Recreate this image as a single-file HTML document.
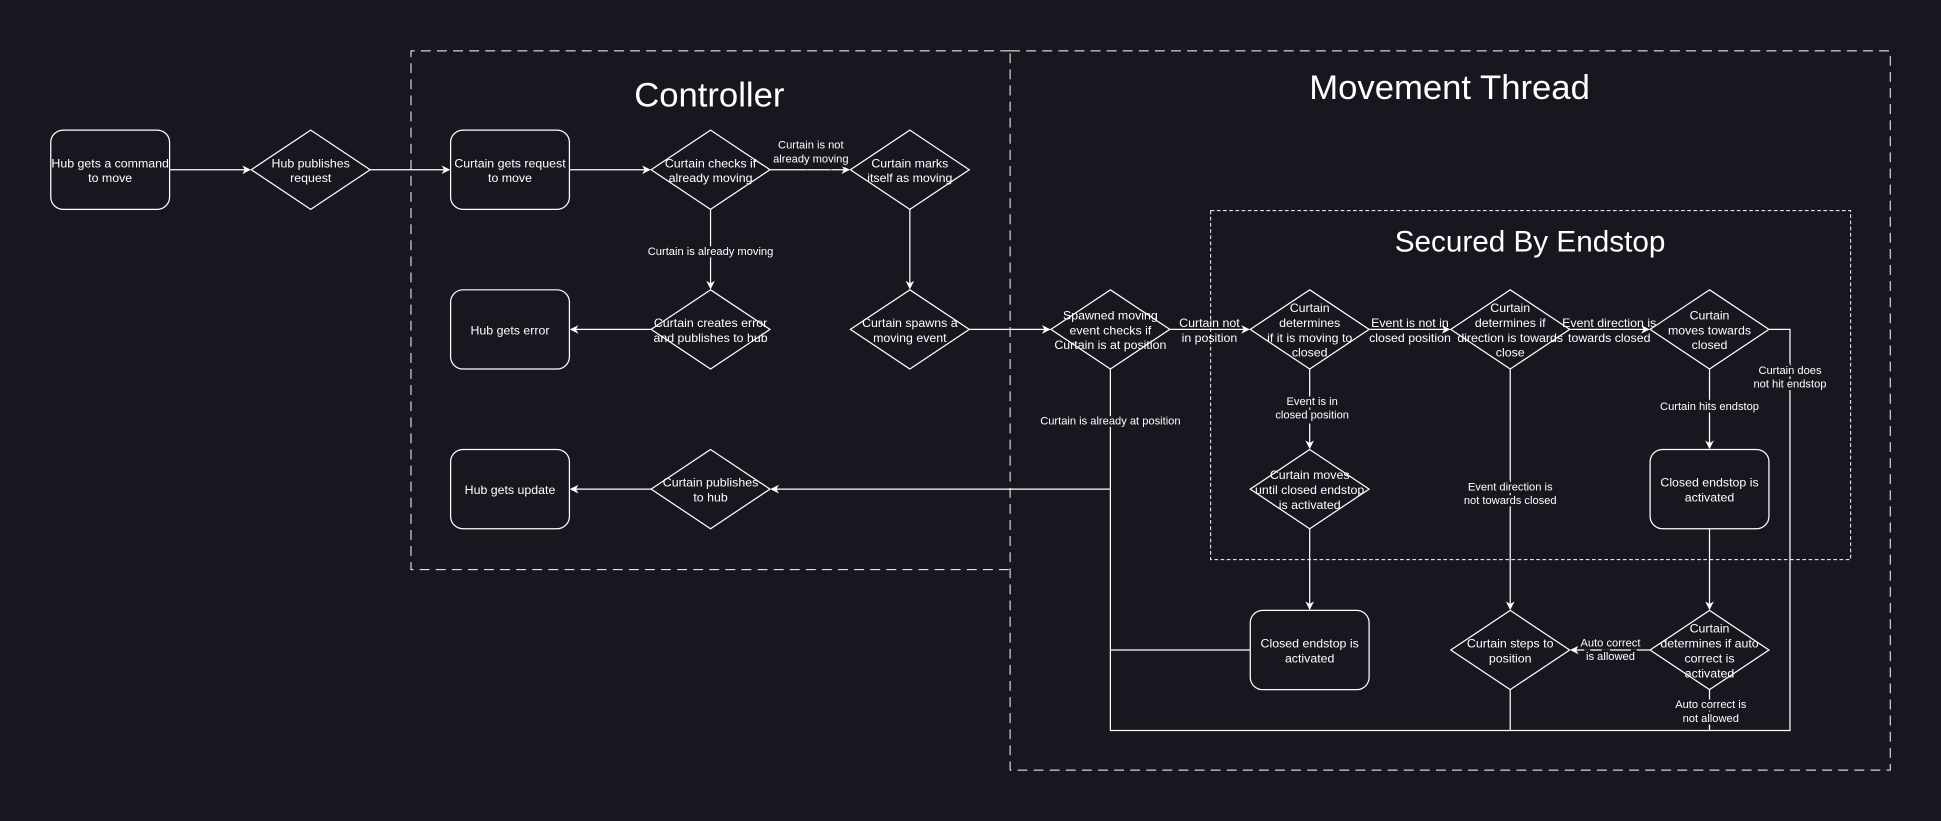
<!DOCTYPE html>
<html><head><meta charset="utf-8"><style>
html,body{margin:0;padding:0;background:#18161f;}
svg{display:block;}
text{font-family:"Liberation Sans",sans-serif;fill:#fff;}
</style></head><body>
<svg width="1941" height="821" viewBox="0 0 1568 663" xmlns="http://www.w3.org/2000/svg">
<defs>
<marker id="a" viewBox="0 0 10 10" refX="9" refY="5" markerWidth="7" markerHeight="7" orient="auto" markerUnits="userSpaceOnUse">
<path d="M0,0 L10,5 L0,10 L3,5 Z" fill="#fff"/></marker>
</defs>
<rect width="1568" height="663" fill="#18161f"/>
<g fill="none" stroke="#fff" stroke-width="0.8">
<path d="M816 41H332V460H816" stroke-dasharray="8,5"/>
<rect x="816" y="41" width="711" height="581" stroke-dasharray="8,5"/>
<rect x="978" y="170" width="517" height="282" stroke-dasharray="3,2"/>
</g>
<text x="573" y="86" font-size="28" text-anchor="middle">Controller</text>
<text x="1171" y="80" font-size="28" text-anchor="middle">Movement Thread</text>
<text x="1236" y="203" font-size="24" text-anchor="middle">Secured By Endstop</text>

<g fill="none" stroke="#fff" stroke-width="1">
<path d="M137 137H202" marker-end="url(#a)"/>
<path d="M299 137H363" marker-end="url(#a)"/>
<path d="M460 137H525" marker-end="url(#a)"/>
<path d="M622 137H686" marker-end="url(#a)"/>
<path d="M574 169V233" marker-end="url(#a)"/>
<path d="M526 266H461" marker-end="url(#a)"/>
<path d="M735 169V233" marker-end="url(#a)"/>
<path d="M783 266H848" marker-end="url(#a)"/>
<path d="M945 266H1009" marker-end="url(#a)"/>
<path d="M1106 266H1171" marker-end="url(#a)"/>
<path d="M1268 266H1332" marker-end="url(#a)"/>
<path d="M1058 298V362" marker-end="url(#a)"/>
<path d="M1058 427V492" marker-end="url(#a)"/>
<path d="M1220 298V492" marker-end="url(#a)"/>
<path d="M1381 298V362" marker-end="url(#a)"/>
<path d="M1381 427V492" marker-end="url(#a)"/>
<path d="M1333 525H1269" marker-end="url(#a)"/>
<path d="M897 298V590H1446V266H1429"/>
<path d="M897 395H623" marker-end="url(#a)"/>
<path d="M526 395H461" marker-end="url(#a)"/>
<path d="M1010 525H897"/>
<path d="M1220 557V590"/>
<path d="M1381 557V590"/>
<rect x="41" y="105" width="96" height="64" rx="10" fill="#18161f"/>
<rect x="364" y="105" width="96" height="64" rx="10" fill="#18161f"/>
<rect x="364" y="234" width="96" height="64" rx="10" fill="#18161f"/>
<rect x="364" y="363" width="96" height="64" rx="10" fill="#18161f"/>
<rect x="1333" y="363" width="96" height="64" rx="10" fill="#18161f"/>
<rect x="1010" y="493" width="96" height="64" rx="10" fill="#18161f"/>
<path d="M251 105L299 137L251 169L203 137Z"/>
<path d="M574 105L622 137L574 169L526 137Z"/>
<path d="M735 105L783 137L735 169L687 137Z"/>
<path d="M574 234L622 266L574 298L526 266Z"/>
<path d="M735 234L783 266L735 298L687 266Z"/>
<path d="M897 234L945 266L897 298L849 266Z"/>
<path d="M1058 234L1106 266L1058 298L1010 266Z"/>
<path d="M1220 234L1268 266L1220 298L1172 266Z"/>
<path d="M1381 234L1429 266L1381 298L1333 266Z"/>
<path d="M574 363L622 395L574 427L526 395Z"/>
<path d="M1058 363L1106 395L1058 427L1010 395Z"/>
<path d="M1220 493L1268 525L1220 557L1172 525Z"/>
<path d="M1381 493L1429 525L1381 557L1333 525Z"/>
</g>

<g font-size="10" text-anchor="middle">
<text x="89" y="135">Hub gets a command</text><text x="89" y="147">to move</text>
<text x="251" y="135">Hub publishes</text><text x="251" y="147">request</text>
<text x="412" y="135">Curtain gets request</text><text x="412" y="147">to move</text>
<text x="574" y="135">Curtain checks if</text><text x="574" y="147">already moving</text>
<text x="735" y="135">Curtain marks</text><text x="735" y="147">itself as moving</text>
<text x="412" y="270">Hub gets error</text>
<text x="574" y="264">Curtain creates error</text><text x="574" y="276">and publishes to hub</text>
<text x="735" y="264">Curtain spawns a</text><text x="735" y="276">moving event</text>
<text x="897" y="258">Spawned moving</text><text x="897" y="270">event checks if</text><text x="897" y="282">Curtain is at position</text>
<text x="1058" y="252">Curtain</text><text x="1058" y="264">determines</text><text x="1058" y="276">if it is moving to</text><text x="1058" y="288">closed</text>
<text x="1220" y="252">Curtain</text><text x="1220" y="264">determines if</text><text x="1220" y="276">direction is towards</text><text x="1220" y="288">close</text>
<text x="1381" y="258">Curtain</text><text x="1381" y="270">moves towards</text><text x="1381" y="282">closed</text>
<text x="412" y="399">Hub gets update</text>
<text x="574" y="393">Curtain publishes</text><text x="574" y="405">to hub</text>
<text x="1058" y="387">Curtain moves</text><text x="1058" y="399">until closed endstop</text><text x="1058" y="411">is activated</text>
<text x="1381" y="393">Closed endstop is</text><text x="1381" y="405">activated</text>
<text x="1058" y="523">Closed endstop is</text><text x="1058" y="535">activated</text>
<text x="1220" y="523">Curtain steps to</text><text x="1220" y="535">position</text>
<text x="1381" y="511">Curtain</text><text x="1381" y="523">determines if auto</text><text x="1381" y="535">correct is</text><text x="1381" y="547">activated</text>
</g>
<g font-size="9" text-anchor="middle" stroke="#18161f" stroke-width="4" paint-order="stroke">
<text x="655" y="120">Curtain is not</text><text x="655" y="131">already moving</text>
<text x="574" y="206">Curtain is already moving</text>
<text x="977" y="264" font-size="10" stroke-width="0">Curtain not</text><text x="977" y="276" font-size="10" stroke-width="0">in position</text>
<text x="1139" y="264" font-size="10" stroke-width="0">Event is not in</text><text x="1139" y="276" font-size="10" stroke-width="0">closed position</text>
<text x="1300" y="264" font-size="10" stroke-width="0">Event direction is</text><text x="1300" y="276" font-size="10" stroke-width="0">towards closed</text>
<text x="897" y="343">Curtain is already at position</text>
<text x="1060" y="327">Event is in</text><text x="1060" y="338">closed position</text>
<text x="1220" y="396">Event direction is</text><text x="1220" y="407">not towards closed</text>
<text x="1381" y="331">Curtain hits endstop</text>
<text x="1446" y="302">Curtain does</text><text x="1446" y="313">not hit endstop</text>
<text x="1301" y="522">Auto correct</text><text x="1301" y="533">is allowed</text>
<text x="1382" y="572">Auto correct is</text><text x="1382" y="583">not allowed</text>
</g>
</svg>
</body></html>
